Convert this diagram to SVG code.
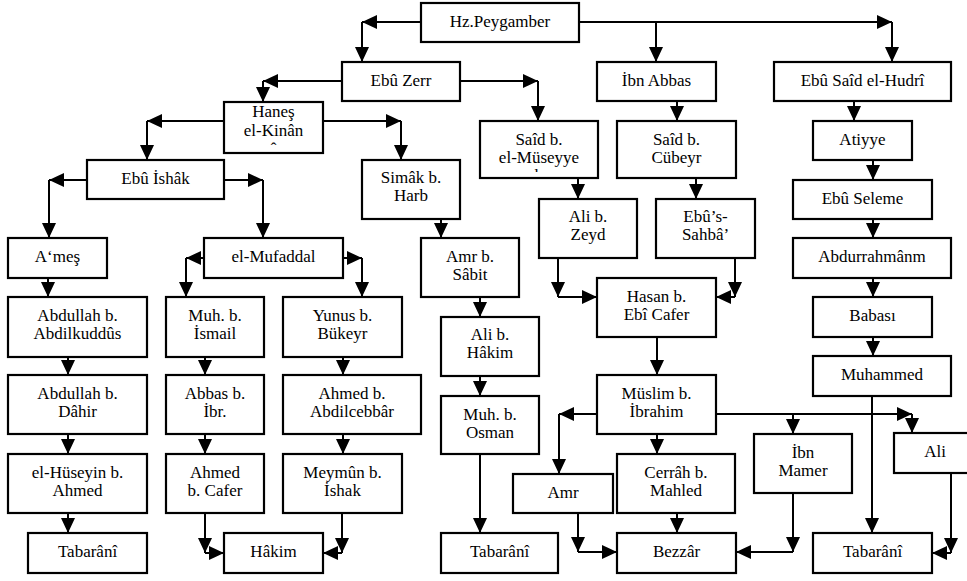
<svg xmlns="http://www.w3.org/2000/svg" width="967" height="581" viewBox="0 0 967 581">
<style>
rect.b{fill:#fff;stroke:#000;stroke-width:2.2}
text{font-family:'Liberation Serif','DejaVu Serif',serif;font-size:17px;fill:#000;text-anchor:middle}
#connectors line{stroke:#000;stroke-width:2;fill:none;marker-end:url(#ah)}
</style>
<defs>
<marker id="ah" markerUnits="userSpaceOnUse" markerWidth="15" markerHeight="14" refX="15" refY="7" orient="auto">
<path d="M0,0 L15,7 L0,14 Z" fill="#000"/>
</marker>
<clipPath id="clipSaid"><rect x="481" y="122" width="116" height="50"/></clipPath>
</defs>
<rect width="967" height="581" fill="#fff"/>
<g id="connectors">
<line x1="421" y1="22" x2="362" y2="22"/><line x1="362" y1="22" x2="362" y2="62"/>
<line x1="579" y1="22" x2="892" y2="22"/><line x1="892" y1="22" x2="892" y2="62"/>
<line x1="656" y1="22" x2="656" y2="62"/>
<line x1="342" y1="81" x2="263" y2="81"/><line x1="263" y1="81" x2="263" y2="102"/>
<line x1="460" y1="81" x2="538" y2="81"/><line x1="538" y1="81" x2="538" y2="121"/>
<line x1="677" y1="101" x2="677" y2="121"/>
<line x1="854" y1="101" x2="854" y2="121"/>
<line x1="224" y1="121" x2="147" y2="121"/><line x1="147" y1="121" x2="147" y2="160"/>
<line x1="323" y1="121" x2="401" y2="121"/><line x1="401" y1="121" x2="401" y2="160"/>
<line x1="873" y1="160" x2="873" y2="180"/>
<line x1="578" y1="178" x2="578" y2="199"/>
<line x1="696" y1="178" x2="696" y2="199"/>
<line x1="87" y1="180" x2="49" y2="180"/><line x1="49" y1="180" x2="49" y2="238"/>
<line x1="224" y1="180" x2="263" y2="180"/><line x1="263" y1="180" x2="263" y2="238"/>
<line x1="441" y1="219" x2="441" y2="238"/>
<line x1="873" y1="219" x2="873" y2="238"/>
<line x1="204" y1="258" x2="186" y2="258"/><line x1="186" y1="258" x2="186" y2="297"/>
<line x1="343" y1="258" x2="362" y2="258"/><line x1="362" y1="258" x2="362" y2="297"/>
<line x1="558" y1="258" x2="558" y2="297"/><line x1="558" y1="297" x2="597" y2="297"/>
<line x1="735" y1="258" x2="735" y2="297"/><line x1="735" y1="297" x2="716" y2="297"/>
<line x1="48" y1="278" x2="48" y2="297"/>
<line x1="873" y1="278" x2="873" y2="297"/>
<line x1="480" y1="297" x2="480" y2="317"/>
<line x1="205" y1="357" x2="205" y2="375"/>
<line x1="343" y1="357" x2="343" y2="375"/>
<line x1="68" y1="357" x2="68" y2="375"/>
<line x1="657" y1="337" x2="657" y2="375"/>
<line x1="873" y1="337" x2="873" y2="356"/>
<line x1="480" y1="376" x2="480" y2="396"/>
<line x1="597" y1="414" x2="559" y2="414"/><line x1="559" y1="414" x2="559" y2="474"/>
<line x1="716" y1="414" x2="912" y2="414"/><line x1="912" y1="414" x2="912" y2="433"/>
<line x1="793" y1="414" x2="793" y2="434"/>
<line x1="657" y1="434" x2="657" y2="454"/>
<line x1="872" y1="396" x2="872" y2="533"/>
<line x1="68" y1="434" x2="68" y2="454"/>
<line x1="205" y1="434" x2="205" y2="454"/>
<line x1="343" y1="434" x2="343" y2="454"/>
<line x1="68" y1="513" x2="68" y2="533"/>
<line x1="205" y1="513" x2="205" y2="553"/><line x1="205" y1="553" x2="224" y2="553"/>
<line x1="342" y1="513" x2="342" y2="553"/><line x1="342" y1="553" x2="323" y2="553"/>
<line x1="480" y1="454" x2="480" y2="533"/>
<line x1="578" y1="513" x2="578" y2="552"/><line x1="578" y1="552" x2="617" y2="552"/>
<line x1="677" y1="513" x2="677" y2="533"/>
<line x1="793" y1="493" x2="793" y2="552"/><line x1="793" y1="552" x2="736" y2="552"/>
<line x1="951" y1="473" x2="951" y2="553"/><line x1="951" y1="553" x2="932" y2="553"/>
</g>
<g id="hz"><rect class="b" x="421" y="3" width="158" height="39"/><text x="500" y="27">Hz.Peygamber</text></g>
<g id="ebuzerr"><rect class="b" x="342" y="62" width="118" height="39"/><text x="401" y="86">Ebû Zerr</text></g>
<g id="ibnabbas"><rect class="b" x="597" y="62" width="119" height="39"/><text x="656.5" y="86">İbn Abbas</text></g>
<g id="ebusaid"><rect class="b" x="774" y="62" width="177" height="39"/><text x="862.5" y="86">Ebû Saîd el-Hudrî</text></g>
<g id="hanes"><rect class="b" x="224" y="102" width="99" height="51"/><text x="273.5" y="117">Haneş</text><text x="273.5" y="136">el-Kinân</text><text x="273.5" y="154">ˆ</text></g>
<g id="said1"><rect class="b" x="480" y="121" width="118" height="57"/><text x="539" y="145">Saîd b.</text><text x="539" y="163">el-Müseyye</text><text x="539" y="181" clip-path="url(#clipSaid)">b</text></g>
<g id="said2"><rect class="b" x="617" y="121" width="119" height="57"/><text x="676.5" y="145">Saîd b.</text><text x="676.5" y="163">Cübeyr</text></g>
<g id="atiyye"><rect class="b" x="813" y="121" width="99" height="39"/><text x="862.5" y="145">Atiyye</text></g>
<g id="ebuishak"><rect class="b" x="87" y="160" width="137" height="39"/><text x="155.5" y="184">Ebû İshâk</text></g>
<g id="simak"><rect class="b" x="362" y="160" width="98" height="59"/><text x="411" y="183">Simâk b.</text><text x="411" y="201">Harb</text></g>
<g id="ebuseleme"><rect class="b" x="793" y="180" width="139" height="39"/><text x="862.5" y="204">Ebû Seleme</text></g>
<g id="alizeyd"><rect class="b" x="539" y="199" width="98" height="59"/><text x="588" y="222">Ali b.</text><text x="588" y="240">Zeyd</text></g>
<g id="ebussahba"><rect class="b" x="656" y="199" width="99" height="59"/><text x="705.5" y="222">Ebû’s-</text><text x="705.5" y="240">Sahbâ’</text></g>
<g id="ames"><rect class="b" x="8" y="238" width="99" height="40"/><text x="57.5" y="262">A‘meş</text></g>
<g id="mufaddal"><rect class="b" x="204" y="238" width="139" height="40"/><text x="273.5" y="262">el-Mufaddal</text></g>
<g id="amrsabit"><rect class="b" x="421" y="238" width="98" height="59"/><text x="470" y="262">Amr b.</text><text x="470" y="280">Sâbit</text></g>
<g id="abdurrahman"><rect class="b" x="793" y="238" width="158" height="40"/><text x="872" y="262">Abdurrahmânm</text></g>
<g id="hasan"><rect class="b" x="597" y="278" width="119" height="59"/><text x="656.5" y="302">Hasan b.</text><text x="656.5" y="320">Ebî Cafer</text></g>
<g id="babasi"><rect class="b" x="813" y="297" width="119" height="40"/><text x="872.5" y="321">Babası</text></g>
<g id="abdullah1"><rect class="b" x="8" y="297" width="139" height="60"/><text x="77.5" y="321">Abdullah b.</text><text x="77.5" y="339">Abdilkuddûs</text></g>
<g id="muhismail"><rect class="b" x="166" y="297" width="98" height="60"/><text x="215" y="321">Muh. b.</text><text x="215" y="339">İsmail</text></g>
<g id="yunus"><rect class="b" x="283" y="297" width="119" height="60"/><text x="342.5" y="321">Yunus b.</text><text x="342.5" y="339">Bükeyr</text></g>
<g id="alihakim"><rect class="b" x="441" y="317" width="98" height="59"/><text x="490" y="340">Ali b.</text><text x="490" y="358">Hâkim</text></g>
<g id="muhammed"><rect class="b" x="813" y="356" width="138" height="40"/><text x="882" y="380">Muhammed</text></g>
<g id="abdullah2"><rect class="b" x="8" y="375" width="139" height="59"/><text x="77.5" y="399">Abdullah b.</text><text x="77.5" y="417">Dâhir</text></g>
<g id="abbas"><rect class="b" x="166" y="375" width="98" height="59"/><text x="215" y="399">Abbas b.</text><text x="215" y="417">İbr.</text></g>
<g id="ahmedabd"><rect class="b" x="283" y="375" width="138" height="59"/><text x="352" y="399">Ahmed b.</text><text x="352" y="417">Abdilcebbâr</text></g>
<g id="muslim"><rect class="b" x="597" y="375" width="119" height="59"/><text x="656.5" y="399">Müslim b.</text><text x="656.5" y="417">İbrahim</text></g>
<g id="muhosman"><rect class="b" x="441" y="396" width="98" height="58"/><text x="490" y="420">Muh. b.</text><text x="490" y="438">Osman</text></g>
<g id="ibnmamer"><rect class="b" x="754" y="434" width="98" height="59"/><text x="803" y="458">İbn</text><text x="803" y="476">Mamer</text></g>
<g id="ali"><rect class="b" x="894" y="433" width="82" height="40"/><text x="935" y="457">Ali</text></g>
<g id="huseyin"><rect class="b" x="8" y="454" width="139" height="59"/><text x="77.5" y="478">el-Hüseyin b.</text><text x="77.5" y="496">Ahmed</text></g>
<g id="ahmedcafer"><rect class="b" x="166" y="454" width="98" height="59"/><text x="215" y="478">Ahmed</text><text x="215" y="496">b. Cafer</text></g>
<g id="meymun"><rect class="b" x="283" y="454" width="119" height="59"/><text x="342.5" y="478">Meymûn b.</text><text x="342.5" y="496">İshak</text></g>
<g id="amr"><rect class="b" x="513" y="474" width="100" height="39"/><text x="563" y="498">Amr</text></g>
<g id="cerrah"><rect class="b" x="617" y="454" width="118" height="59"/><text x="676" y="478">Cerrâh b.</text><text x="676" y="496">Mahled</text></g>
<g id="tab1"><rect class="b" x="28" y="533" width="119" height="40"/><text x="87.5" y="557">Tabarânî</text></g>
<g id="hakim"><rect class="b" x="224" y="533" width="99" height="40"/><text x="273.5" y="557">Hâkim</text></g>
<g id="tab2"><rect class="b" x="441" y="533" width="117" height="40"/><text x="499.5" y="557">Tabarânî</text></g>
<g id="bezzar"><rect class="b" x="617" y="533" width="119" height="40"/><text x="676.5" y="557">Bezzâr</text></g>
<g id="tab3"><rect class="b" x="813" y="533" width="119" height="40"/><text x="872.5" y="557">Tabarânî</text></g>
</svg>
